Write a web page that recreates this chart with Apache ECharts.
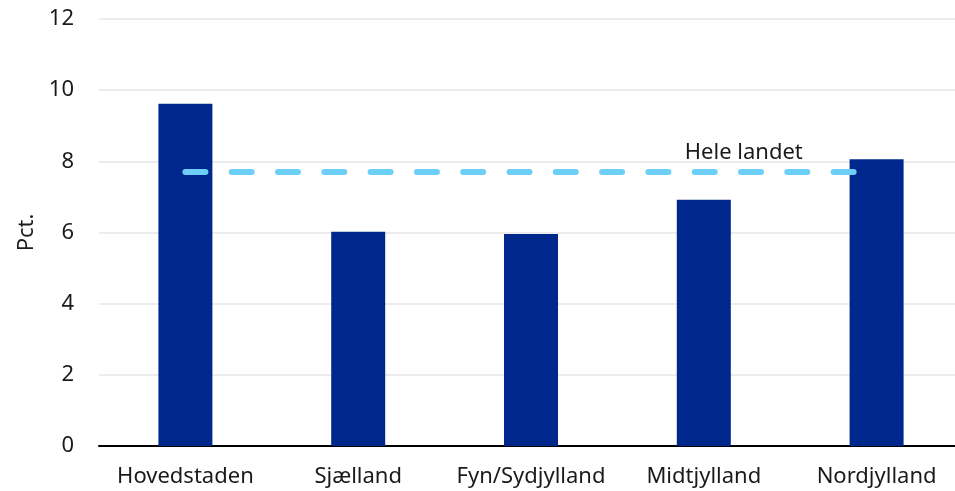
<!DOCTYPE html>
<html>
<head>
<meta charset="utf-8">
<script src="https://cdn.jsdelivr.net/npm/echarts@6/dist/echarts.min.js"></script>
<style>
html,body{margin:0;padding:0;background:#fff;}
#chart{width:955px;height:491px;}
</style>
</head>
<body>
<div id="chart"></div>
<script>
const categories = ['Hovedstaden', 'Sjælland', 'Fyn/Sydjylland', 'Midtjylland', 'Nordjylland'];
const regionValues = [9.62, 6.02, 5.96, 6.92, 8.06];
const nationalValue = 7.70;
const nationalLabel = 'Hele landet';
const yTicks = { min: 0, max: 12, interval: 2 };
const yName = 'Pct.';

const nationalLine = categories.map(() => nationalValue);
const FONT = '"Noto Sans", sans-serif';

const chart = echarts.init(document.getElementById('chart'), null, { renderer: 'canvas' });
chart.setOption({
  animation: false,
  backgroundColor: '#ffffff',
  grid: { left: 99, top: 19, width: 864, bottom: 45, containLabel: false, outerBoundsMode: 'none' },
  xAxis: {
    type: 'category',
    data: categories,
    axisLine: { show: true, lineStyle: { color: '#000000', width: 2 } },
    axisTick: { show: false },
    axisLabel: { color: '#1a1a1a', fontSize: 22, fontFamily: FONT, margin: 20, interval: 0 }
  },
  yAxis: {
    type: 'value',
    min: yTicks.min, max: yTicks.max, interval: yTicks.interval,
    name: yName,
    nameLocation: 'middle',
    nameGap: 61,
    nameRotate: 90,
    nameTextStyle: { color: '#1a1a1a', fontSize: 22, fontFamily: FONT },
    axisLine: { show: false },
    axisTick: { show: false },
    axisLabel: { color: '#1a1a1a', fontSize: 22, fontFamily: FONT, margin: 25 },
    splitLine: { show: true, lineStyle: { color: '#ececec', width: 2 } }
  },
  series: [
    {
      type: 'bar',
      data: regionValues,
      barWidth: 54,
      itemStyle: { color: '#00288c' },
      z: 2
    },
    {
      type: 'line',
      data: nationalLine,
      symbol: 'none',
      lineStyle: { color: '#6ecff6', width: 6, type: [20, 26.3], cap: 'round' },
      z: 3,
      markPoint: {
        symbol: 'circle',
        symbolSize: 0,
        data: [{ coord: [3, nationalValue] }],
        label: {
          show: true,
          formatter: nationalLabel,
          color: '#1a1a1a',
          fontSize: 22,
          fontFamily: FONT,
          position: 'inside',
          offset: [40, -19]
        }
      }
    }
  ]
});
</script>
</body>
</html>
